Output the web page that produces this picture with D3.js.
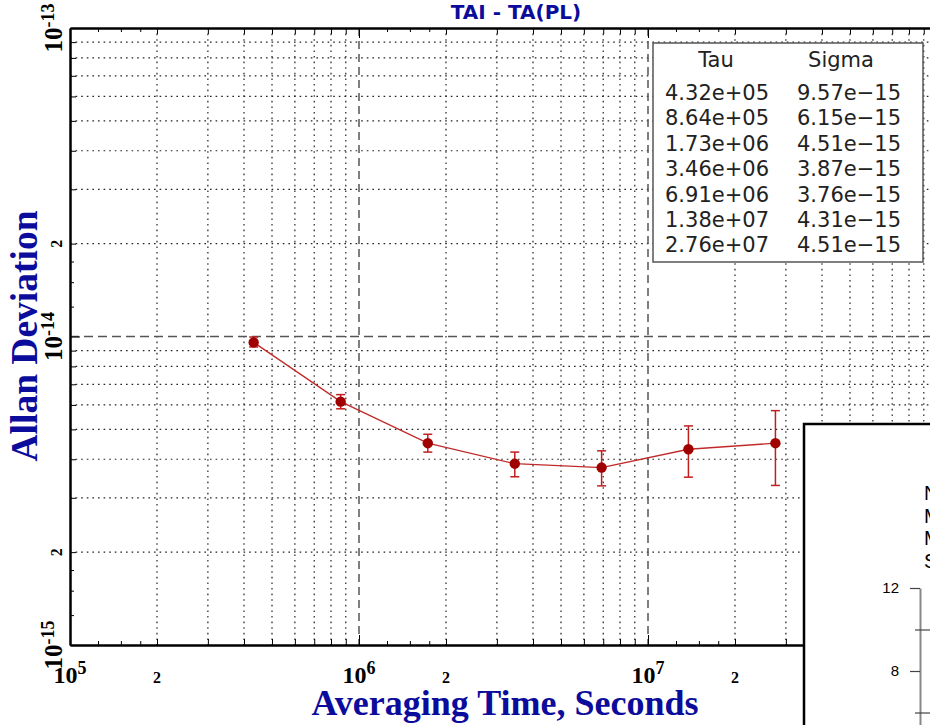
<!DOCTYPE html>
<html>
<head>
<meta charset="utf-8">
<script src="https://cdn.jsdelivr.net/npm/d3@7"></script>
<style>
  html, body { margin: 0; padding: 0; background: #fff; }
  svg { display: block; }
</style>
</head>
<body>
<div id="chart"></div>
<script>
// ---- data ----
const tauValues   = [4.32e5, 8.64e5, 1.73e6, 3.46e6, 6.91e6, 1.38e7, 2.76e7];
const sigmaValues = [9.57e-15, 6.15e-15, 4.51e-15, 3.87e-15, 3.76e-15, 4.31e-15, 4.51e-15];
const errLow      = [9.25e-15, 5.83e-15, 4.22e-15, 3.51e-15, 3.28e-15, 3.50e-15, 3.29e-15];
const errHigh     = [9.96e-15, 6.48e-15, 4.82e-15, 4.22e-15, 4.26e-15, 5.13e-15, 5.75e-15];
const xDecades = [5, 6, 7, 8];        // 10^5 .. 10^8
const yDecades = [-15, -14, -13];     // 10^-15 .. 10^-13
const legendHeaders = ["Tau", "Sigma"];
const insetRows = ["N = 8", "Max", "Min", "Sdev"];
const insetTicks = [4, 8, 12];
const insetMinor = [6, 10];
const titleText = "TAI - TA(PL)";
const xTitle = "Averaging Time, Seconds";
const yTitle = "Allan Deviation";

const W = 930, H = 725;
const svg = d3.select("#chart").append("svg").attr("width", W).attr("height", H);
svg.append("rect").attr("width", W).attr("height", H).attr("fill", "#fff");

const L = 70, T = 28, B = 645, R = 937;
const x = d3.scaleLog().domain([1e5, 1e8]).range([L, R]);
const y = d3.scaleLog().domain([1e-15, 1e-13]).range([B, T]);

const serif = "'Liberation Serif', 'Times New Roman', serif";
const blue = "#0c0c9c";

// helper value lists
const xMinor = [], xSub = [], yMinor = [], ySub = [];
xDecades.slice(0, -1).forEach(d => {
  for (let k = 2; k <= 9; k++) xMinor.push(k * Math.pow(10, d));
  [1.25, 1.5, 1.75].forEach(k => xSub.push(k * Math.pow(10, d)));
});
yDecades.slice(0, -1).forEach(d => {
  for (let k = 2; k <= 9; k++) yMinor.push(k * Math.pow(10, d));
  [1.25, 1.5, 1.75].forEach(k => ySub.push(k * Math.pow(10, d)));
});
const xMajor = xDecades.map(d => Math.pow(10, d));
const yMajor = yDecades.map(d => Math.pow(10, d));

// ---- grid ----
const grid = svg.append("g");
grid.selectAll(".vmin").data(xMinor).join("line")
  .attr("x1", d => x(d)).attr("x2", d => x(d)).attr("y1", T).attr("y2", B)
  .attr("stroke", "#222").attr("stroke-width", 1.2).attr("stroke-dasharray", "1.6,4");
grid.selectAll(".hmin").data(yMinor).join("line")
  .attr("y1", d => y(d)).attr("y2", d => y(d)).attr("x1", L).attr("x2", R)
  .attr("stroke", "#222").attr("stroke-width", 1.2).attr("stroke-dasharray", "1.6,4");
grid.selectAll(".vmaj").data(xMajor.slice(1, -1)).join("line")
  .attr("x1", d => x(d)).attr("x2", d => x(d)).attr("y1", T).attr("y2", B)
  .attr("stroke", "#555").attr("stroke-width", 1.5).attr("stroke-dasharray", "8,5");
grid.selectAll(".hmaj").data(yMajor.slice(1, -1)).join("line")
  .attr("y1", d => y(d)).attr("y2", d => y(d)).attr("x1", L).attr("x2", R)
  .attr("stroke", "#555").attr("stroke-width", 1.5).attr("stroke-dasharray", "9,5");

// ---- axes (ticks inward) ----
function styleAxis(g) {
  g.selectAll(".domain").attr("stroke", "#000").attr("stroke-width", 2.5);
  g.selectAll(".tick line").attr("stroke", "#000").attr("stroke-width", 1);
  g.selectAll(".tick text").remove();
}
[[xMajor, 10], [xMinor, 6], [xSub, 4]].forEach(([vals, len], i) => {
  const gb = svg.append("g").attr("transform", `translate(0,${B})`)
    .call(d3.axisBottom(x).tickValues(vals).tickSizeInner(-len).tickSizeOuter(0).tickFormat(""));
  styleAxis(gb);
  const gt = svg.append("g").attr("transform", `translate(0,${T})`)
    .call(d3.axisTop(x).tickValues(vals).tickSizeInner(-len).tickSizeOuter(0).tickFormat(""));
  styleAxis(gt);
  if (i > 0) { gb.select(".domain").remove(); gt.select(".domain").remove(); }
});
[[yMajor, 10], [yMinor, 6], [ySub, 4]].forEach(([vals, len], i) => {
  const gl = svg.append("g").attr("transform", `translate(${L},0)`)
    .call(d3.axisLeft(y).tickValues(vals).tickSizeInner(-len).tickSizeOuter(0).tickFormat(""));
  styleAxis(gl);
  if (i > 0) gl.select(".domain").remove();
});

// ---- tick labels ----
const xl = svg.append("g").attr("font-family", serif).attr("font-weight", "bold").attr("fill", "#000");
xDecades.forEach(d => {
  const t = xl.append("text").attr("x", x(Math.pow(10, d))).attr("y", 683)
    .attr("text-anchor", "middle").attr("font-size", 24);
  t.append("tspan").text("10");
  t.append("tspan").attr("dy", -9).attr("font-size", 18).text(d);
});
xDecades.slice(0, -1).forEach(d => {
  xl.append("text").attr("x", x(2 * Math.pow(10, d))).attr("y", 683)
    .attr("text-anchor", "middle").attr("font-size", 16).text("2");
});
yDecades.forEach(d => {
  const t = xl.append("text").attr("transform", `translate(62,${y(Math.pow(10, d))}) rotate(-90)`)
    .attr("text-anchor", "middle").attr("font-size", 25);
  t.append("tspan").text("10");
  t.append("tspan").attr("dy", -8).attr("font-size", 18).text(d);
});
yDecades.slice(0, -1).forEach(d => {
  xl.append("text").attr("transform", `translate(62,${y(2 * Math.pow(10, d))}) rotate(-90)`)
    .attr("text-anchor", "middle").attr("font-size", 16).text("2");
});

// ---- titles ----
svg.append("text").attr("x", 516).attr("y", 19).attr("text-anchor", "middle")
  .attr("font-family", "'DejaVu Sans', sans-serif").attr("font-weight", "bold")
  .attr("font-size", 20).attr("fill", blue).text(titleText);
svg.append("text").attr("x", 505).attr("y", 715).attr("text-anchor", "middle")
  .attr("font-family", serif).attr("font-weight", "bold")
  .attr("font-size", 36).attr("fill", blue).text(xTitle);
svg.append("text").attr("transform", "translate(37,336) rotate(-90)").attr("text-anchor", "middle")
  .attr("font-family", serif).attr("font-weight", "bold")
  .attr("font-size", 37.5).attr("fill", blue).text(yTitle);

// ---- data ----
const pts = tauValues.map((t, i) => ({ t, s: sigmaValues[i], lo: errLow[i], hi: errHigh[i] }));
const dataG = svg.append("g");
dataG.append("path").datum(pts)
  .attr("d", d3.line().x(d => x(d.t)).y(d => y(d.s)))
  .attr("fill", "none").attr("stroke", "#c22a2a").attr("stroke-width", 1.3);
const eb = dataG.selectAll(".eb").data(pts).join("g").attr("stroke", "#c01f1f").attr("stroke-width", 1.5);
eb.append("line").attr("x1", d => x(d.t)).attr("x2", d => x(d.t)).attr("y1", d => y(d.lo)).attr("y2", d => y(d.hi));
eb.append("line").attr("x1", d => x(d.t) - 4.5).attr("x2", d => x(d.t) + 4.5).attr("y1", d => y(d.lo)).attr("y2", d => y(d.lo));
eb.append("line").attr("x1", d => x(d.t) - 4.5).attr("x2", d => x(d.t) + 4.5).attr("y1", d => y(d.hi)).attr("y2", d => y(d.hi));
dataG.selectAll(".pt").data(pts).join("circle")
  .attr("cx", d => x(d.t)).attr("cy", d => y(d.s)).attr("r", 5.2).attr("fill", "#a00000");

// ---- legend table ----
function fmtExp(v) {
  return v.toExponential(2).replace(/e([+-])(\d)$/, "e$10$2").replace("e-", "e\u2212");
}
const lg = svg.append("g").attr("font-family", "'DejaVu Sans', sans-serif").attr("font-size", 21).attr("fill", "#222");
lg.append("rect").attr("x", 653).attr("y", 43).attr("width", 270).attr("height", 219)
  .attr("fill", "#fff").attr("stroke", "#555").attr("stroke-width", 1.5);
lg.append("text").attr("x", 716).attr("y", 67).attr("text-anchor", "middle").text(legendHeaders[0]);
lg.append("text").attr("x", 841).attr("y", 67).attr("text-anchor", "middle").text(legendHeaders[1]);
tauValues.forEach((t, i) => {
  lg.append("text").attr("x", 665).attr("y", 100 + 25.4 * i).text(fmtExp(t));
  lg.append("text").attr("x", 797).attr("y", 100 + 25.4 * i).text(fmtExp(sigmaValues[i]));
});

// ---- inset panel (partially visible) ----
const ins = svg.append("g");
ins.append("rect").attr("x", 804).attr("y", 424).attr("width", 300).attr("height", 400)
  .attr("fill", "#fff").attr("stroke", "#000").attr("stroke-width", 2.5);
insetRows.forEach((r, i) => {
  ins.append("text").attr("x", 924).attr("y", 500 + 22.7 * i)
    .attr("font-family", "'Liberation Sans', Arial, sans-serif").attr("font-size", 20).attr("fill", "#000").text(r);
});
const yIn = d3.scaleLinear().domain([4, 12]).range([754, 588]);
const ia = ins.append("g").attr("transform", "translate(920,0)")
  .call(d3.axisLeft(yIn).tickValues(insetTicks).tickSizeInner(10).tickSizeOuter(0).tickPadding(11));
ia.selectAll(".domain").attr("stroke", "#888").attr("stroke-width", 2);
ia.selectAll(".tick line").attr("stroke", "#444").attr("stroke-width", 1.2);
ia.selectAll(".tick text").attr("font-family", "'Liberation Sans', Arial, sans-serif").attr("font-size", 15).attr("fill", "#000");
const im = ins.append("g").attr("transform", "translate(915,0)")
  .call(d3.axisRight(yIn).tickValues(insetMinor).tickSizeInner(15).tickSizeOuter(0).tickFormat(""));
im.select(".domain").remove();
im.selectAll(".tick line").attr("stroke", "#444").attr("stroke-width", 1.2);
</script>
</body>
</html>
